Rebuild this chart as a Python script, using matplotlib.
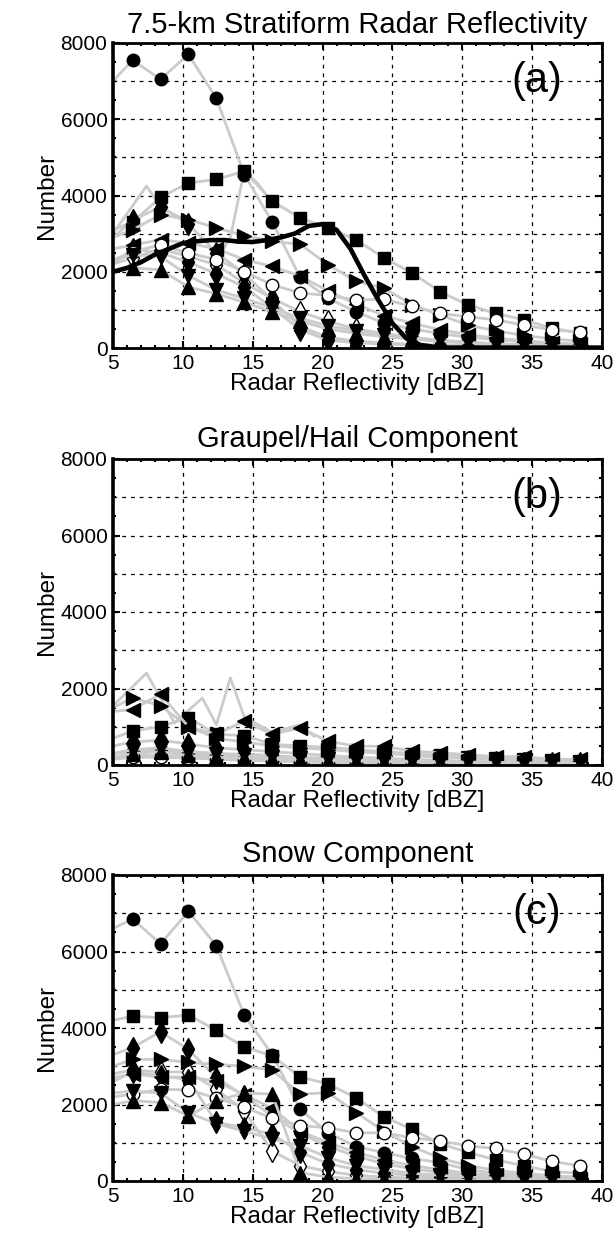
import matplotlib.pyplot as plt
from matplotlib.ticker import MultipleLocator

plt.rcParams['font.family'] = ['Liberation Sans', 'DejaVu Sans']

# reflectivity bins; first entry is the left edge where the lines start
dbz = [5, 6.4, 8.4, 10.4, 12.4, 14.4, 16.4, 18.4, 20.4, 22.4,
       24.4, 26.4, 28.4, 30.4, 32.4, 34.4, 36.4, 38.4]

# (a) total stratiform reflectivity
refl_odiam = [2200, 2360, 2600, 2400, 2180, 1700, 1300, 950, 700, 500, 380, 280, 200, 150, 110, 80, 60, 40]
refl_circle = [7000, 7550, 7050, 7700, 6550, 4550, 3300, 1850, 1300, 950, 650, 500, 380, 280, 220, 160, 120, 90]
refl_square = [3100, 3300, 3950, 4330, 4420, 4640, 3850, 3410, 3150, 2840, 2360, 1970, 1480, 1130, 910, 740, 520, 400]
refl_diam1 = [2900, 3350, 3700, 3250, 2500, 1950, 1250, 560, 280, 180, 130, 100, 80, 60, 45, 35, 25, 20]
refl_diam2 = [2200, 2600, 2500, 2250, 1950, 1600, 1050, 480, 200, 140, 100, 80, 60, 50, 40, 30, 25, 20]
refl_right = [2900, 3100, 3500, 3370, 3150, 2950, 2800, 2720, 2180, 1750, 1570, 1130, 870, 600, 450, 330, 240, 180]
refl_left = [2600, 2700, 2840, 2750, 2600, 2320, 2140, 1880, 1500, 1150, 850, 650, 480, 350, 260, 190, 140, 100]
refl_ocircle = [2300, 2530, 2700, 2490, 2320, 2000, 1660, 1440, 1380, 1260, 1280, 1090, 910, 820, 740, 600, 480, 420]
refl_up = [2000, 2100, 2050, 1600, 1420, 1200, 950, 700, 500, 380, 300, 230, 170, 130, 90, 70, 50, 40]
refl_down = [2300, 2450, 2400, 1900, 1520, 1300, 1050, 780, 580, 450, 350, 270, 200, 150, 110, 80, 60, 45]
refl_extra = [([5, 7.4, 8.4, 10.4], [3000, 4250, 3700, 3300]),
              ([12.4, 13.4, 14.4, 15.4, 16.4], [2300, 2900, 4650, 4300, 3800])]

# total number per dBZ (thick curve in (a))
total_dbz = list(range(5, 41))
total_num = [2000, 2100, 2250, 2450, 2600, 2750, 2800, 2830, 2830, 2790, 2780, 2830,
             2900, 3000, 3200, 3250, 3100, 2600, 1900, 1250, 650, 250, 80, 30,
             10, 10, 10, 10, 10, 10, 10, 10, 10, 10, 10, 10]

# (b) graupel/hail component
grau_odiam = [200, 250, 250, 220, 180, 150, 120, 100, 80, 60, 50, 40, 30, 25, 20, 15, 10, 10]
grau_circle = [300, 350, 380, 300, 250, 200, 150, 120, 100, 80, 60, 50, 40, 30, 25, 20, 15, 10]
grau_square = [700, 890, 1000, 1240, 800, 770, 540, 500, 460, 400, 350, 300, 250, 220, 180, 150, 120, 100]
grau_diam1 = [500, 600, 650, 550, 450, 400, 350, 300, 250, 200, 180, 150, 120, 100, 80, 60, 50, 40]
grau_diam2 = [300, 400, 400, 350, 300, 280, 250, 200, 180, 150, 120, 100, 80, 60, 50, 40, 30, 20]
grau_right = [1500, 1750, 1550, 1000, 700, 600, 500, 450, 400, 350, 300, 250, 200, 180, 150, 120, 100, 80]
grau_left = [1400, 1450, 1850, 1000, 800, 1150, 800, 970, 620, 490, 490, 360, 320, 270, 220, 220, 150, 150]
grau_ocircle = [150, 200, 200, 180, 150, 120, 100, 80, 60, 50, 40, 30, 25, 20, 15, 10, 10, 10]
grau_up = [200, 300, 350, 250, 200, 180, 150, 130, 110, 100, 90, 80, 70, 60, 50, 40, 30, 20]
grau_down = [300, 400, 450, 350, 300, 250, 200, 170, 150, 130, 110, 100, 90, 80, 70, 60, 50, 40]
grau_extra = [([5, 7.4, 9.4, 11.4, 12.4, 13.4, 14.4, 16.4, 18.4, 19.4],
               [1550, 2400, 1100, 1750, 1050, 2280, 1250, 850, 1050, 750])]

# (c) snow component
snow_odiam = [2800, 2900, 2850, 2850, 2400, 1830, 780, 400, 250, 150, 100, 80, 60, 40, 30, 20, 15, 10]
snow_circle = [6600, 6850, 6200, 7050, 6150, 4330, 3300, 1870, 1260, 900, 740, 590, 480, 300, 200, 150, 100, 80]
snow_square = [4200, 4310, 4270, 4340, 3940, 3500, 3270, 2720, 2540, 2170, 1680, 1350, 980, 750, 550, 400, 250, 200]
snow_diam1 = [3300, 3490, 3900, 3440, 2700, 2220, 1700, 1250, 900, 650, 450, 320, 220, 160, 110, 80, 60, 40]
snow_diam2 = [2600, 2850, 2750, 2650, 1530, 1390, 1220, 750, 450, 300, 200, 150, 100, 80, 60, 40, 30, 20]
snow_right = [3000, 3180, 3180, 3100, 3050, 3000, 2900, 2270, 2310, 1790, 1300, 900, 600, 400, 280, 200, 140, 100]
snow_left = [2700, 2800, 2720, 2720, 2610, 2250, 1900, 1300, 1000, 750, 550, 400, 300, 200, 150, 100, 80, 60]
snow_ocircle = [2200, 2270, 2400, 2380, 2170, 1930, 1640, 1450, 1390, 1260, 1260, 1130, 1050, 920, 850, 700, 520, 390]
snow_up = [2000, 2100, 2050, 1700, 2100, 2300, 2270, 220, 100, 60, 40, 30, 20, 15, 10, 10, 10, 10]
snow_down = [2300, 2350, 2300, 1780, 1500, 1300, 1100, 920, 610, 400, 300, 200, 150, 100, 80, 60, 40, 30]

# marker, face colour, size for each series (same order in every panel)
styles = [('d', 'w', 11), ('o', 'k', 9), ('s', 'k', 8.5), ('d', 'k', 11),
          ('d', 'k', 11), ('>', 'k', 9.5), ('<', 'k', 9.5), ('o', 'w', 9),
          ('^', 'k', 9.5), ('v', 'k', 9.5)]

panels = [
    ('7.5-km Stratiform Radar Reflectivity', '(a)',
     [refl_odiam, refl_circle, refl_square, refl_diam1, refl_diam2, refl_right,
      refl_left, refl_ocircle, refl_up, refl_down], refl_extra),
    ('Graupel/Hail Component', '(b)',
     [grau_odiam, grau_circle, grau_square, grau_diam1, grau_diam2, grau_right,
      grau_left, grau_ocircle, grau_up, grau_down], grau_extra),
    ('Snow Component', '(c)',
     [snow_odiam, snow_circle, snow_square, snow_diam1, snow_diam2, snow_right,
      snow_left, snow_ocircle, snow_up, snow_down], []),
]

fig = plt.figure(figsize=(6.16, 12.43), dpi=100)
ax_boxes = [(43, 348), (459, 765), (875, 1181)]
title_pads = [7, 8.5, 9]
line_gray = '#cbcbcb'

for (title, tag, series, extra), (top, bot), tpad in zip(panels, ax_boxes, title_pads):
    ax = fig.add_axes([113 / 616, 1 - bot / 1243, 489 / 616, (bot - top) / 1243])

    for yv in range(1000, 8000, 1000):
        ax.axhline(yv, color='k', ls=(0, (3, 4)), lw=0.9, zorder=0.5)
    for xv in range(10, 40, 5):
        ax.axvline(xv, color='k', ls=(0, (3, 4)), lw=0.9, zorder=0.5)

    for xs, ys in extra:
        ax.plot(xs, ys, color=line_gray, lw=2, zorder=1)

    for vals, (m, fc, ms) in zip(series, styles):
        ax.plot(dbz, vals, color=line_gray, lw=2, marker=m, ms=ms,
                mfc=fc, mec='k', mew=1.0, markevery=slice(1, None), zorder=2)

    if tag == '(a)':
        ax.plot(total_dbz, total_num, color='k', lw=3.3, zorder=3)

    ax.set_xlim(5, 40)
    ax.set_ylim(0, 8000)
    ax.xaxis.set_major_locator(MultipleLocator(5))
    ax.xaxis.set_minor_locator(MultipleLocator(1))
    ax.yaxis.set_major_locator(MultipleLocator(2000))
    ax.yaxis.set_minor_locator(MultipleLocator(500))
    ax.tick_params(which='both', direction='in', top=True, right=True,
                   labelsize=15, width=1.5, pad=4)
    ax.tick_params(which='major', length=5)
    ax.tick_params(which='minor', length=2.5)
    for sp in ax.spines.values():
        sp.set_linewidth(2)
    ax.spines['left'].set_linewidth(2.6)

    ax.set_xlabel('Radar Reflectivity [dBZ]', fontsize=17.5, labelpad=0)
    ax.set_ylabel('Number', fontsize=17.5, labelpad=2)
    ax.set_title(title, fontsize=21, pad=tpad)
    ax.text(0.866, 0.875, tag, transform=ax.transAxes, fontsize=30,
            ha='center', va='center', zorder=4)

fig.savefig('out.png', dpi=100)
